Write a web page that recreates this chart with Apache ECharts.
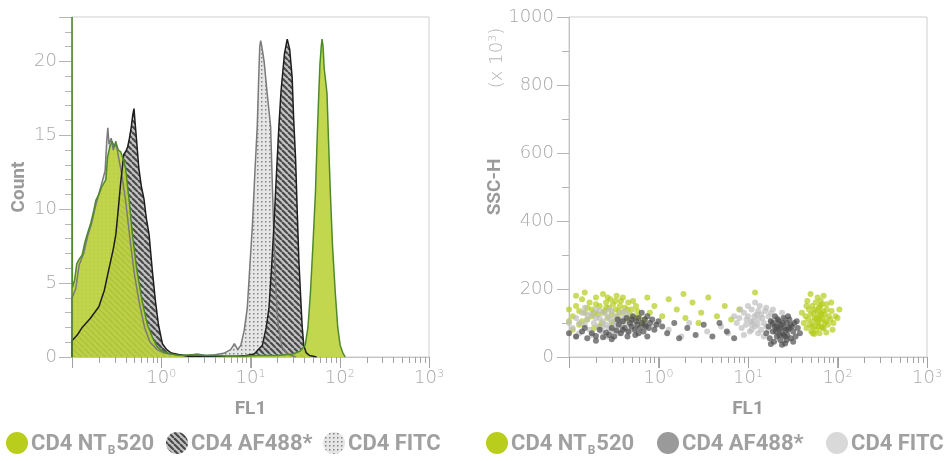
<!DOCTYPE html>
<html>
<head>
    <meta charset="utf-8" />
    <title>CD4 FL1 histogram and scatter</title>
    <script src="https://cdn.jsdelivr.net/npm/echarts@6/dist/echarts.min.js"></script>
    <style>
        html, body { margin: 0; padding: 0; background: #fff; }
        #chart { width: 948px; height: 461px; }
    </style>
</head>
<body>
    <div id="chart"></div>
    <script type="text/javascript">

        // histogram outlines, [FL1, count]
        var fitcHist = [[0.1, 0], [0.1, 4], [0.11, 4.6], [0.12, 6.2], [0.135, 7], [0.15, 8.2], [0.165, 9], [0.185, 10.3], [0.21, 11.5], [0.235, 12.6], [0.245, 14.6], [0.252, 15.5], [0.26, 14.4], [0.275, 14.8], [0.29, 14], [0.31, 14.6], [0.33, 13.6], [0.36, 12.4], [0.4, 10.5], [0.45, 7.8], [0.5, 5.6], [0.57, 3.6], [0.65, 2], [0.75, 1], [0.9, 0.5], [1.1, 0.25], [1.5, 0.15], [2, 0.1], [2.5, 0.2], [3.2, 0.1], [4, 0.15], [5, 0.25], [6, 0.5], [6.6, 0.9], [7.2, 0.5], [7.8, 0.8], [8.5, 1.8], [9.2, 3.3], [9.8, 6], [10.5, 8.9], [11.2, 12.5], [11.9, 15.6], [12.3, 18.5], [12.7, 21], [13, 21.4], [13.4, 21], [14.2, 20], [15.4, 17.8], [16.8, 15.6], [17.5, 12], [18.3, 8], [19.3, 4.5], [20.5, 2], [22.5, 0.7], [26, 0.2], [32, 0]];
        var afHist = [[0.1, 0], [0.1, 1.1], [0.115, 1.5], [0.13, 2], [0.16, 2.6], [0.2, 3.4], [0.23, 4.5], [0.26, 6], [0.29, 7.3], [0.31, 8.3], [0.33, 10], [0.35, 11.7], [0.38, 13.7], [0.4, 13.9], [0.42, 14.2], [0.44, 14.8], [0.46, 15.5], [0.48, 16.4], [0.495, 16.8], [0.51, 15.8], [0.53, 14.6], [0.56, 12.8], [0.6, 11.5], [0.64, 10.7], [0.68, 9.4], [0.73, 8.3], [0.79, 6], [0.86, 3.8], [0.93, 2.2], [1.03, 0.9], [1.15, 0.5], [1.3, 0.27], [1.6, 0.15], [2, 0.05], [3, 0.05], [5, 0.05], [7, 0.05], [9, 0.1], [11, 0.2], [13.6, 0.8], [15, 2], [16.1, 3.3], [17.2, 6], [18.3, 8.9], [19.5, 12.3], [20.8, 15.6], [22, 18], [22.7, 18.9], [24, 20.5], [25.8, 21.5], [27.5, 20.8], [29.3, 18.9], [30.5, 16], [32, 13.4], [33.5, 9.6], [34.8, 6.6], [36.5, 4], [37.9, 2.1], [39.5, 0.8], [42, 0.3], [46, 0.1], [55, 0]];
        var ntHist = [[0.1, 0], [0.1, 23], [0.1003, 18.8], [0.101, 4.7], [0.107, 5.2], [0.113, 6.3], [0.12, 6.6], [0.13, 6.9], [0.14, 7.8], [0.15, 8.4], [0.163, 9.1], [0.175, 9.9], [0.185, 10.6], [0.2, 11], [0.215, 11.5], [0.24, 12], [0.25, 13.5], [0.265, 14.2], [0.28, 14.6], [0.3, 14.2], [0.31, 14.5], [0.33, 14], [0.35, 13.9], [0.38, 13.3], [0.4, 12.7], [0.44, 10.4], [0.475, 8.3], [0.53, 6], [0.61, 3.8], [0.7, 2.2], [0.8, 1.3], [0.9, 0.7], [1.05, 0.35], [1.3, 0.2], [1.6, 0.1], [2.2, 0.15], [3, 0.1], [4, 0.1], [5.5, 0.05], [8, 0.05], [12, 0.1], [20, 0.1], [30, 0.2], [36, 0.4], [41, 0.8], [44, 2], [47, 4.4], [50, 7.5], [53.4, 11.1], [56, 15], [58.2, 17.8], [60, 19.8], [62, 21], [63.4, 21.5], [65, 21], [67, 19.5], [70, 18.5], [72, 17.8], [75, 14.5], [78.5, 11.1], [83, 7.5], [89, 4.4], [95, 2], [101, 0.8], [108, 0.3], [115, 0]];

        // scatter events, [FL1, SSC-H x10^3]
        var ntDots = [[0.11, 120], [0.12, 150], [0.13, 95], [0.14, 170], [0.15, 130], [0.16, 110], [0.17, 160], [0.18, 140], [0.19, 85], [0.2, 175], [0.21, 125], [0.22, 150], [0.23, 100], [0.24, 185], [0.25, 135], [0.26, 160], [0.27, 115], [0.28, 145], [0.29, 170], [0.3, 125], [0.31, 155], [0.32, 105], [0.33, 140], [0.34, 180], [0.35, 120], [0.37, 150], [0.38, 165], [0.4, 130], [0.42, 145], [0.44, 110], [0.46, 160], [0.48, 125], [0.5, 140], [0.53, 115], [0.56, 150], [0.6, 120], [0.65, 100], [0.11, 80], [0.12, 180], [0.13, 135], [0.14, 105], [0.15, 190], [0.16, 145], [0.18, 120], [0.2, 155], [0.22, 90], [0.24, 130], [0.27, 175], [0.3, 100], [0.33, 165], [0.36, 135], [0.4, 175], [0.45, 140], [0.52, 165], [0.58, 135], [0.7, 110], [0.1, 140], [0.1, 105], [0.19, 130], [0.26, 145],
            [0.8, 130], [0.9, 150], [1.1, 120], [1.3, 170], [1.6, 140], [2, 115], [2.4, 160], [3, 130], [3.6, 175], [4.5, 120], [5.5, 150], [6.5, 110], [8, 140], [1.9, 185], [2.8, 100], [12, 190], [0.75, 175],
            [42, 100], [44, 120], [45, 85], [47, 110], [48, 140], [49, 95], [50, 125], [51, 75], [52, 150], [53, 105], [54, 130], [55, 90], [56, 115], [57, 160], [58, 80], [59, 135], [60, 100], [61, 120], [62, 145], [63, 70], [64, 110], [65, 130], [66, 90], [67, 155], [68, 115], [69, 135], [70, 85], [72, 125], [74, 105], [76, 140], [78, 95], [80, 120], [83, 110], [86, 135], [90, 100], [95, 120], [100, 115], [46, 165], [50, 185], [55, 68], [60, 175], [65, 165], [70, 180], [75, 72], [85, 160], [52, 90], [58, 115], [62, 90], [66, 125], [72, 100], [56, 140], [61, 105], [64, 150], [68, 85], [105, 140], [40, 130], [45, 150], [75, 155], [88, 80], [53, 70]];
        var fitcDots = [[0.1, 100], [0.11, 85], [0.12, 115], [0.13, 70], [0.14, 130], [0.15, 95], [0.16, 110], [0.17, 80], [0.18, 125], [0.19, 100], [0.2, 140], [0.21, 90], [0.22, 115], [0.23, 75], [0.24, 105], [0.25, 130], [0.26, 95], [0.27, 120], [0.28, 85], [0.29, 110], [0.3, 135], [0.31, 100], [0.32, 80], [0.33, 120], [0.34, 95], [0.35, 110], [0.37, 130], [0.39, 90], [0.41, 115], [0.43, 100], [0.45, 125], [0.48, 95], [0.51, 110], [0.55, 85], [0.6, 105], [0.12, 60], [0.15, 145], [0.18, 65], [0.22, 135], [0.26, 60], [0.3, 75], [0.36, 70], [0.42, 135], [0.2, 115], [0.24, 90], [0.28, 140], [0.16, 125], [0.38, 105], [0.47, 75], [0.13, 100],
            [0.9, 95], [1.3, 80], [2.2, 100], [3.5, 75], [5, 90], [6, 70], [1.8, 60],
            [7.5, 100], [8, 115], [8.5, 85], [9, 130], [9.5, 95], [10, 120], [10.5, 75], [11, 140], [11.5, 105], [12, 90], [12.5, 125], [13, 110], [13.5, 150], [14, 80], [14.5, 115], [15, 100], [15.5, 135], [16, 90], [17, 120], [18, 105], [19, 140], [20, 85], [21, 115], [22, 100], [24, 130], [9, 65], [10, 150], [11, 95], [12, 160], [13, 70], [14, 125], [16, 145], [17, 80], [18, 130], [8.2, 140], [9.6, 110], [10.8, 105], [11.8, 120], [12.8, 95], [15, 60], [13, 135], [11, 80], [7, 120], [26, 110], [19, 95]];
        var afDots = [[0.1, 70], [0.12, 60], [0.14, 75], [0.16, 55], [0.18, 70], [0.2, 62], [0.22, 80], [0.24, 58], [0.26, 72], [0.28, 65], [0.3, 85], [0.32, 60], [0.34, 78], [0.36, 95], [0.38, 70], [0.4, 105], [0.42, 85], [0.44, 115], [0.46, 75], [0.48, 100], [0.5, 90], [0.52, 120], [0.54, 80], [0.56, 105], [0.58, 95], [0.6, 115], [0.62, 85], [0.65, 100], [0.68, 75], [0.7, 110], [0.72, 90], [0.75, 120], [0.78, 85], [0.8, 100], [0.85, 110], [0.9, 80], [0.95, 95], [1, 105], [0.45, 60], [0.55, 65], [0.65, 130], [0.5, 110], [0.6, 70], [0.7, 95], [0.4, 80], [0.3, 52], [0.2, 48], [0.15, 85], [0.35, 110], [0.75, 60],
            [1.1, 90], [1.25, 70], [1.5, 100], [1.7, 55], [2.1, 85], [2.6, 65], [3.2, 95], [4, 60], [4.8, 100], [5.8, 75], [7, 55],
            [16, 70], [17, 90], [17.5, 55], [18, 105], [19, 75], [19.5, 45], [20, 90], [21, 60], [21.5, 110], [22, 80], [23, 50], [23.5, 95], [24, 70], [25, 115], [25.5, 85], [26, 40], [27, 100], [27.5, 65], [28, 80], [29, 110], [30, 55], [31, 90], [32, 75], [33, 100], [34, 60], [36, 85], [38, 70], [18, 38], [20, 120], [22, 105], [24, 36], [26, 60], [28, 120], [30, 95], [32, 45], [20.5, 75], [23, 85], [25, 65], [27, 50], [29, 85], [21, 90], [24.5, 100], [26.5, 80], [19, 100], [35, 105], [22.5, 65]];

        // FL1 tick values: decades and log minor steps
        var majorFl1 = [0.1, 1, 10, 100, 1000];
        var minorFl1 = [];
        [0.1, 1, 10, 100].forEach(function (d) {
            for (var k = 2; k <= 9; k++) minorFl1.push(+(d * k).toPrecision(3));
        });

        var legendNames = ['CD4 NT{b|B}520', 'CD4 AF488*', 'CD4 FITC'];

        function hatchPattern() {
            var c = document.createElement('canvas');
            c.width = 6; c.height = 6;
            var g = c.getContext('2d');
            g.fillStyle = '#c4c4c4';
            g.fillRect(0, 0, 6, 6);
            g.strokeStyle = '#4a4a4a';
            g.lineWidth = 2.2;
            for (var k = -6; k <= 6; k += 6) {
                g.beginPath(); g.moveTo(k, 0); g.lineTo(k + 6, 6); g.stroke();
            }
            return c;
        }
        function dotPattern() {
            var c = document.createElement('canvas');
            c.width = 4; c.height = 4;
            var g = c.getContext('2d');
            g.fillStyle = '#e6e6e6';
            g.fillRect(0, 0, 4, 4);
            g.fillStyle = '#858585';
            g.fillRect(1, 1, 1.5, 1.5);
            return c;
        }
        var hatch = { image: hatchPattern(), repeat: 'repeat' };
        var dots = { image: dotPattern(), repeat: 'repeat' };

        var tickFont = 'DejaVu Sans';
        var grey = '#a8a8a8';

        function fl1Axis(idx) {
            return {
                type: 'log', logBase: 10, gridIndex: idx, min: 0.1, max: 1000, splitNumber: 4,
                name: 'FL1', nameLocation: 'middle', nameGap: 43,
                nameTextStyle: { fontFamily: 'Roboto', fontWeight: 'bold', fontSize: 19, color: '#9a9a9a' },
                axisLine: { show: true, onZero: false, lineStyle: { color: '#c4c4c4' } },
                axisTick: { show: true, length: 11, lineStyle: { color: '#a9a9a9' } },
                splitLine: { show: false },
                axisLabel: {
                    margin: 12, color: grey, fontFamily: tickFont, fontWeight: 200, fontSize: 18,
                    formatter: function (v) {
                        var e = Math.round(Math.log(v) / Math.LN10);
                        return e < 0 ? '' : '10{s|' + e + '}';
                    },
                    rich: { s: { fontSize: 11, fontFamily: tickFont, fontWeight: 200, color: grey, verticalAlign: 'top', padding: [0, 0, 6, 0] } }
                }
            };
        }

        function countAxis(idx, max, interval, minorSplit, name, gap, tickLen) {
            return {
                type: 'value', gridIndex: idx, min: 0, max: max, interval: interval,
                name: name, nameLocation: 'middle', nameGap: gap,
                nameTextStyle: { fontFamily: 'Roboto', fontWeight: 'bold', fontSize: 19, color: '#9a9a9a' },
                axisLine: { show: true, onZero: false, lineStyle: { color: '#c4c4c4' } },
                axisTick: { show: true, length: tickLen, lineStyle: { color: '#b5b5b5' } },
                minorTick: { show: true, splitNumber: minorSplit, length: 7, lineStyle: { color: '#b5b5b5' } },
                splitLine: { show: false },
                axisLabel: {
                    margin: 15, color: grey, fontFamily: tickFont, fontWeight: 200, fontSize: 18,
                    formatter: function (v) { return v % interval ? '' : String(v); }
                }
            };
        }

        function histLine(name, data, stroke, fill, opacity) {
            return {
                name: name, type: 'line', xAxisIndex: 0, yAxisIndex: 0, data: data,
                symbol: 'none', smooth: false,
                lineStyle: { color: stroke, width: 1.5 },
                areaStyle: { color: fill, opacity: opacity }
            };
        }

        function dotSeries(data, color) {
            return {
                type: 'scatter', xAxisIndex: 1, yAxisIndex: 1, data: data,
                symbolSize: 6, itemStyle: { color: color, opacity: 0.7 }
            };
        }

        function legendItems(x0, fills, gaps) {
            var out = [];
            var x = x0;
            for (var i = 0; i < 3; i++) {
                out.push({ type: 'circle', shape: { cx: x + 11, cy: 443, r: 11 }, style: { fill: fills[i] } });
                out.push({
                    type: 'text', x: x + 25, y: 444,
                    style: {
                        text: legendNames[i], fill: '#a0a0a0', fontFamily: 'Roboto', fontWeight: 'bold', fontSize: 22,
                        verticalAlign: 'middle',
                        rich: { b: { fill: '#a0a0a0', fontFamily: 'Roboto', fontWeight: 'bold', fontSize: 12, padding: [13, 1, 0, 1] } }
                    }
                });
                x += gaps[i];
            }
            return out;
        }

        var graphics = legendItems(6, ['#b8cd1c', hatch, dots], [160, 157, 200])
            .concat(legendItems(486, ['#b8cd1c', '#9a9a9a', '#d9d9d9'], [171, 169, 200]))
            .concat([{
                type: 'text', x: 497, y: 58, rotation: Math.PI / 2,
                style: {
                    text: '(x 10{s|3})', fill: '#b5b5b5', fontFamily: tickFont, fontWeight: 200, fontSize: 18,
                    align: 'center', verticalAlign: 'middle',
                    rich: { s: { fill: '#b5b5b5', fontFamily: tickFont, fontWeight: 200, fontSize: 11, verticalAlign: 'top', padding: [0, 0, 6, 0] } }
                }
            }]);

        var chart = echarts.init(document.getElementById('chart'));

        var option = {
            animation: false,
            backgroundColor: '#fff',
            grid: [
                { left: 72, right: 519, top: 17, bottom: 104, show: true, borderColor: '#cfcfcf', borderWidth: 1 },
                { left: 569, right: 21, top: 17, bottom: 104, show: true, borderColor: '#cfcfcf', borderWidth: 1 }
            ],
            xAxis: [fl1Axis(0), fl1Axis(1)],
            yAxis: [
                countAxis(0, 23, 5, 5, 'Count', 43, 13),
                countAxis(1, 1000, 200, 2, 'SSC-H', 48, 12)
            ],
            graphic: graphics,
            series: [
                histLine('CD4 FITC', fitcHist, '#7a7a7a', dots, 1),
                histLine('CD4 AF488*', afHist, '#1e1e1e', hatch, 1),
                histLine('CD4 NTB520', ntHist, '#4e8a2a', '#bdd33b', 0.9),
                dotSeries(ntDots, '#b4cc1a'),
                dotSeries(fitcDots, '#bdbdbd'),
                dotSeries(afDots, '#4d4d4d')
            ]
        };

        chart.setOption(option);

        // FL1 tick marks, placed through each panel's own axes
        var ticks = [];
        [0, 1].forEach(function (gi) {
            function mark(v, len) {
                var p = chart.convertToPixel({ gridIndex: gi }, [v, 0]);
                if (!p || isNaN(p[0]) || isNaN(p[1])) {
                    p = chart.convertToPixel({ xAxisIndex: gi, yAxisIndex: gi }, [v, 0]);
                }
                if (!p || isNaN(p[0]) || isNaN(p[1])) return;
                var x = Math.round(p[0]) + 0.5;
                var y = Math.round(p[1]);
                ticks.push({
                    type: 'line', silent: true, z: 50,
                    shape: { x1: x, y1: y, x2: x, y2: y + len },
                    style: { stroke: '#a2a2a2', lineWidth: 1 }
                });
            }
            minorFl1.forEach(function (v) { mark(v, 6); });
            majorFl1.forEach(function (v) { mark(v, 11); });
        });
        chart.setOption({ graphic: graphics.concat(ticks) });
    </script>
</body>
</html>
